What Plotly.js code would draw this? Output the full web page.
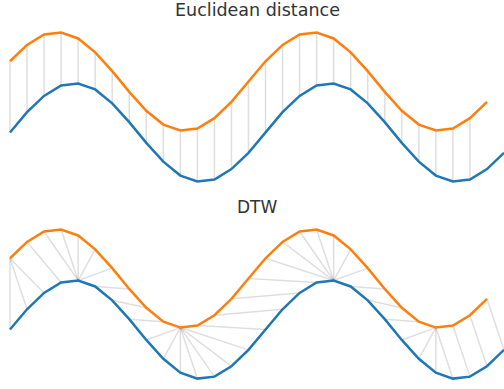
<!DOCTYPE html>
<html>
<head>
<meta charset="utf-8">
<script src="https://cdn.plot.ly/plotly-3.0.1.min.js"></script>
<style>html,body{margin:0;padding:0;background:#fff;}#chart{width:504px;height:389px;}</style>
</head>
<body>
<div id="chart"></div>
<script>
// Series (sample index = position along x)
const blue = [0.00, 0.41, 0.74, 0.95, 0.99, 0.87, 0.59, 0.21, -0.21, -0.59, -0.87, -0.99, -0.95, -0.74, -0.41,
              0.00, 0.41, 0.74, 0.95, 0.99, 0.87, 0.59, 0.21, -0.21, -0.59, -0.87, -0.99, -0.95, -0.74, -0.41];
const orange = [1.44, 1.77, 1.98, 2.02, 1.90, 1.62, 1.24, 0.82, 0.44, 0.16, 0.04, 0.08, 0.29, 0.62, 1.03,
                1.44, 1.77, 1.98, 2.02, 1.90, 1.62, 1.24, 0.82, 0.44, 0.16, 0.04, 0.08, 0.29, 0.62];
const titles = ["Euclidean distance", "DTW"];
// Euclidean matches: orange[i] <-> blue[i] for these indices
const euclidIdx = [0,1,2,3,4,5,6,7,8,9,10,11,12,13,14,15,16,17,18,19,20,21,22,23,24,25,26,27];
// DTW alignment pairs: [orange index, blue index]
const dtwPairs = [[0,0],[0,1],[0,2],[1,3],[2,4],[3,4],[4,4],[5,4],[6,4],[7,5],[8,6],[9,7],
  [10,8],[10,9],[10,10],[10,11],[10,12],[10,13],[10,14],[11,15],[12,16],[13,17],[14,18],
  [15,19],[16,19],[17,19],[18,19],[19,19],[20,19],[21,19],[22,20],[23,21],[24,22],
  [25,23],[25,24],[25,25],[25,26],[26,27],[27,28],[28,29]];

const xo = orange.map((_, i) => i);
const xb = blue.map((_, i) => i);

const ex = [], ey = [];
euclidIdx.forEach(i => { ex.push(i, i, null); ey.push(orange[i], blue[i], null); });
const dx = [], dy = [];
dtwPairs.forEach(([i, j]) => { dx.push(i, j, null); dy.push(orange[i], blue[j], null); });

const gray = {color: 'rgba(0,0,0,0.13)', width: 1.5};
const bl = {color: '#1f77b4', width: 2.5};
const ol = {color: '#ff7f0e', width: 2.5};

const data = [
  {x: ex, y: ey, mode: 'lines', line: gray, xaxis: 'x', yaxis: 'y', hoverinfo: 'skip'},
  {x: xb, y: blue, mode: 'lines', line: bl, xaxis: 'x', yaxis: 'y'},
  {x: xo, y: orange, mode: 'lines', line: ol, xaxis: 'x', yaxis: 'y'},
  {x: dx, y: dy, mode: 'lines', line: gray, xaxis: 'x2', yaxis: 'y2', hoverinfo: 'skip'},
  {x: xb, y: blue, mode: 'lines', line: bl, xaxis: 'x2', yaxis: 'y2'},
  {x: xo, y: orange, mode: 'lines', line: ol, xaxis: 'x2', yaxis: 'y2'}
];

const ax = {range: [-0.587, 29], visible: false, fixedrange: true};
const layout = {
  width: 504, height: 389,
  margin: {l: 0, r: 0, t: 0, b: 0},
  paper_bgcolor: '#ffffff', plot_bgcolor: '#ffffff',
  showlegend: false,
  xaxis: Object.assign({domain: [0, 1], anchor: 'y'}, ax),
  yaxis: {domain: [0.5067, 0.9393], range: [-1.2, 2.2], visible: false, anchor: 'x'},
  xaxis2: Object.assign({domain: [0, 1], anchor: 'y2'}, ax),
  yaxis2: {domain: [0, 0.4329], range: [-1.2, 2.2], visible: false, anchor: 'x2'},
  annotations: [
    {text: titles[0], xref: 'paper', yref: 'paper', x: 0.51, y: 0.974, xanchor: 'center', yanchor: 'middle',
     showarrow: false, font: {family: 'DejaVu Sans', size: 17.5, color: '#333333'}},
    {text: titles[1], xref: 'paper', yref: 'paper', x: 0.51, y: 0.4666, xanchor: 'center', yanchor: 'middle',
     showarrow: false, font: {family: 'DejaVu Sans', size: 17, color: '#333333'}}
  ]
};
Plotly.newPlot('chart', data, layout, {staticPlot: true, displayModeBar: false});
</script>
</body>
</html>
